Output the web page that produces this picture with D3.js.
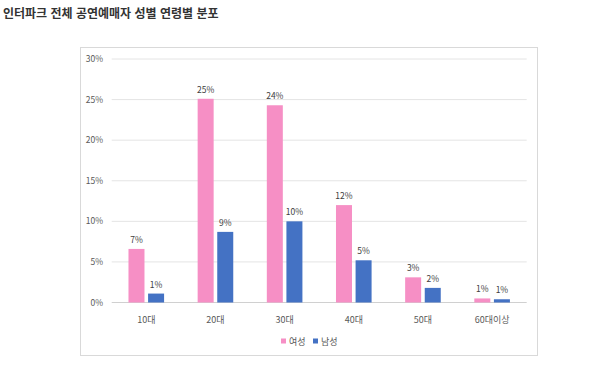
<!DOCTYPE html>
<html lang="ko">
<head>
<meta charset="UTF-8">
<script src="https://d3js.org/d3.v7.min.js"></script>
<style>
  body { margin: 0; background: #fff; }
  text { font-family: "Noto Sans CJK KR", "Noto Sans", sans-serif; }
</style>
</head>
<body>
<svg id="chart" width="600" height="372"></svg>
<script>
// data
const categories = ["10대", "20대", "30대", "40대", "50대", "60대이상"];
const female = [6.6, 25.1, 24.3, 12.0, 3.1, 0.5];
const male = [1.1, 8.7, 10.0, 5.2, 1.8, 0.4];
const femaleLabels = ["7%", "25%", "24%", "12%", "3%", "1%"];
const maleLabels = ["1%", "9%", "10%", "5%", "2%", "1%"];
const yTicks = [0, 5, 10, 15, 20, 25, 30];
const seriesNames = ["여성", "남성"];
const colors = ["#f68fc5", "#4472c4"];

const svg = d3.select("#chart");

// title
svg.append("text")
  .attr("x", 3).attr("y", 18)
  .attr("font-size", 12).attr("font-weight", "bold")
  .attr("fill", "#333")
  .text("인터파크 전체 공연예매자 성별 연령별 분포");

// chart frame
svg.append("rect")
  .attr("x", 80.5).attr("y", 47.5)
  .attr("width", 457).attr("height", 308)
  .attr("fill", "#fff").attr("stroke", "#d9d9d9");

const x = d3.scaleBand().domain(categories).range([111.7, 526.7]);
const y = d3.scaleLinear().domain([0, 30]).range([302.5, 59]);

// grid
svg.selectAll(".grid").data(yTicks).enter().append("line")
  .attr("x1", 111.7).attr("x2", 526.7)
  .attr("y1", d => y(d)).attr("y2", d => y(d))
  .attr("stroke", d => d === 0 ? "#d0d0d0" : "#e4e4e4").attr("stroke-width", 1);

// y axis labels
svg.selectAll(".ylab").data(yTicks).enter().append("text")
  .attr("x", 103).attr("y", d => y(d) + 3)
  .attr("text-anchor", "end")
  .attr("font-size", 8.5).attr("fill", "#595959")
  .text(d => d + "%");

// x axis labels
svg.selectAll(".xlab").data(categories).enter().append("text")
  .attr("x", d => x(d) + x.bandwidth() / 2).attr("y", 323)
  .attr("text-anchor", "middle")
  .attr("font-size", 9).attr("fill", "#595959")
  .text(d => d);

const barW = 16, gap = 3.6;
const series = [
  { vals: female, labels: femaleLabels, off: -gap / 2 - barW },
  { vals: male, labels: maleLabels, off: gap / 2 }
];

series.forEach((s, si) => {
  svg.selectAll(".bar" + si).data(categories).enter().append("rect")
    .attr("x", (d) => x(d) + x.bandwidth() / 2 + s.off)
    .attr("y", (d, i) => y(s.vals[i]))
    .attr("width", barW)
    .attr("height", (d, i) => y(0) - y(s.vals[i]))
    .attr("fill", colors[si]);

  svg.selectAll(".lab" + si).data(categories).enter().append("text")
    .attr("x", (d) => x(d) + x.bandwidth() / 2 + s.off + barW / 2)
    .attr("y", (d, i) => y(s.vals[i]) - 6)
    .attr("text-anchor", "middle")
    .attr("font-size", 8.5).attr("fill", "#404040")
    .text((d, i) => s.labels[i]);
});

// legend
const legX = [281, 313];
seriesNames.forEach((n, i) => {
  svg.append("rect")
    .attr("x", legX[i]).attr("y", 338.5)
    .attr("width", 5).attr("height", 5)
    .attr("fill", colors[i]);
  svg.append("text")
    .attr("x", legX[i] + 8).attr("y", 344.5)
    .attr("font-size", 9).attr("fill", "#595959")
    .text(n);
});
</script>
</body>
</html>
